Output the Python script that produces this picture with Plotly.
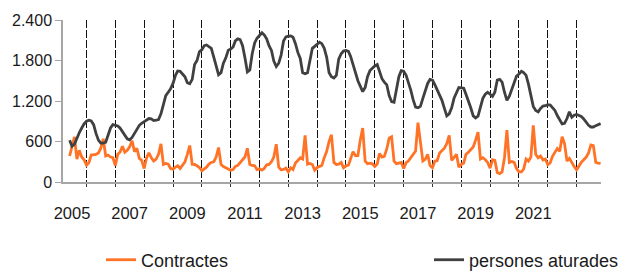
import pandas as pd
import plotly.graph_objects as go

# Monthly series, starting June 2005
start_month = "2005-06-01"

contractes = [
    385, 540, 670, 340, 470, 370, 330, 250, 290, 400, 405, 410,
    430, 500, 640, 385, 400, 370, 360, 245, 410, 440, 530, 440,
    470, 520, 610, 450, 500, 350, 320, 200, 360, 430, 360, 310,
    340, 410, 565, 260, 275, 265, 200, 190, 220, 240, 200, 255,
    300, 410, 540, 260, 260, 240, 215, 165, 190, 220, 265, 290,
    300, 370, 510, 260, 230, 215, 195, 175, 185, 230, 245, 290,
    330, 370, 500, 260, 245, 240, 185, 195, 175, 200, 255, 260,
    300, 370, 560, 220, 180, 185, 205, 150, 210, 185, 280, 320,
    360, 340, 690, 265, 275, 260, 175, 215, 235, 245, 360, 450,
    600, 700, 290, 260, 265, 290, 210, 240, 250, 340, 450, 390,
    390, 620, 800, 310, 270, 280, 270, 230, 265, 420, 370, 380,
    490, 650, 670, 310, 270, 280, 290, 200, 285, 310, 360, 410,
    460, 880, 550, 310, 335, 410, 245, 210, 310, 315, 430, 470,
    500, 570, 690, 320, 360, 410, 220, 260, 280, 410, 440, 480,
    520, 620, 740, 340, 360, 330, 290, 205, 330, 320, 140, 125,
    150, 360, 770, 290, 305, 290, 200, 150, 150, 190, 340, 310,
    370, 840, 410, 360, 385, 325, 340, 255, 285, 380, 440, 495,
    455, 670, 570, 310, 350, 280, 230, 180, 245, 290, 330, 365,
    430, 550, 540, 290, 280, 275,
]

persones_aturades = [
    620, 530, 560, 660, 730, 800, 860, 900, 915, 905, 850, 720,
    620, 575, 575, 590, 700, 800, 850, 845, 830, 800, 740, 690,
    640, 625, 660, 720, 790, 840, 870, 890, 920, 940, 935, 910,
    915, 925, 1010, 1150, 1280, 1330, 1380, 1460, 1580, 1645, 1640, 1600,
    1560, 1470, 1455, 1520, 1740, 1800, 1930, 1960, 2020, 2030, 2010, 1980,
    1850, 1700, 1590, 1620, 1760, 1840, 1950, 1970, 2000, 2090, 2120, 2110,
    2020, 1840, 1630, 1660, 1900, 2060, 2130, 2170, 2210, 2180, 2120, 2020,
    1950, 1790, 1710, 1760, 1880, 2090, 2150, 2160, 2165, 2145, 2050, 1920,
    1830, 1620, 1605, 1620, 1830, 1980, 2010, 2040, 2070, 2050, 1980, 1850,
    1620, 1560, 1540, 1580, 1820, 1900, 1940, 1950, 1935, 1860, 1740, 1600,
    1500, 1420, 1340, 1400, 1560, 1650, 1690, 1720, 1740, 1630, 1530, 1480,
    1440, 1280, 1190, 1180, 1400, 1560, 1650, 1640, 1580, 1480, 1360, 1220,
    1110, 1100, 1120, 1240, 1360, 1460, 1520, 1510, 1440, 1370, 1280, 1210,
    1090, 980, 1010, 1100, 1240, 1330, 1400, 1395, 1390, 1300, 1210, 1100,
    980, 950, 975, 1120, 1240, 1300, 1330, 1300, 1270, 1330, 1510, 1520,
    1480, 1330, 1210, 1270, 1360, 1480, 1570, 1600, 1640, 1620, 1580, 1450,
    1300, 1120, 1060, 1040, 1090, 1125, 1130, 1146, 1140, 1100, 1060, 985,
    920, 860, 870, 940, 1040, 960, 990, 1000, 985, 970, 935, 880,
    840, 815, 815, 835, 850, 865,
]

year_lines = [f"{y}-01-01" for y in range(2006, 2024)]
label_years = [2005, 2007, 2009, 2011, 2013, 2015, 2017, 2019, 2021]
label_pos = [f"{y}-07-01" for y in label_years]
label_text = [str(y) for y in label_years]
y_ticks = [0, 600, 1200, 1800, 2400]

dates = pd.date_range(start_month, periods=len(contractes), freq="MS")

FONT = "Liberation Sans, Arial, sans-serif"
TXT = "#1a1a1a"

fig = go.Figure()
fig.add_trace(go.Scatter(x=dates, y=contractes, mode="lines", name="Contractes",
                         line=dict(color="#ff7326", width=2.8), legend="legend"))
fig.add_trace(go.Scatter(x=dates, y=persones_aturades, mode="lines", name="persones aturades",
                         line=dict(color="#404040", width=2.8), legend="legend2"))

leg_common = dict(orientation="h", xref="container", yref="container",
                  xanchor="left", y=0.044, yanchor="middle",
                  font=dict(size=18, color=TXT), bgcolor="rgba(0,0,0,0)",
                  borderwidth=0)

fig.update_layout(
    width=622, height=272,
    margin=dict(l=58, r=21, t=14, b=90),
    paper_bgcolor="white", plot_bgcolor="white",
    separators=",.",
    font=dict(family=FONT, color=TXT, size=15),
    showlegend=True,
    legend=dict(x=101 / 622, **leg_common),
    legend2=dict(x=429 / 622, **leg_common),
    xaxis=dict(
        type="date",
        range=["2005-03-09", "2023-11-06"],
        tickvals=label_pos, ticktext=label_text,
        ticks="outside", ticklen=15, tickcolor="rgba(0,0,0,0)",
        tickfont=dict(size=16.5, color=TXT),
        showgrid=False,
        minor=dict(tickvals=year_lines, ticks="outside", ticklen=3,
                   tickcolor="#333333", showgrid=True, gridcolor="#111111",
                   gridwidth=1, griddash="8px,2px"),
        showline=True, linecolor="#a6a6a6", linewidth=1.5,
        zeroline=False,
    ),
    yaxis=dict(
        range=[0, 2400],
        tickvals=y_ticks, tickformat=",",
        ticks="outside", ticklen=6, tickcolor="#a6a6a6",
        tickfont=dict(size=16, color=TXT),
        showgrid=False, zeroline=False,
        showline=True, linecolor="#a6a6a6", linewidth=1.5,
    ),
)

fig.write_html("out.html", config={"displayModeBar": False},
               post_script="document.body.style.margin='0';")
